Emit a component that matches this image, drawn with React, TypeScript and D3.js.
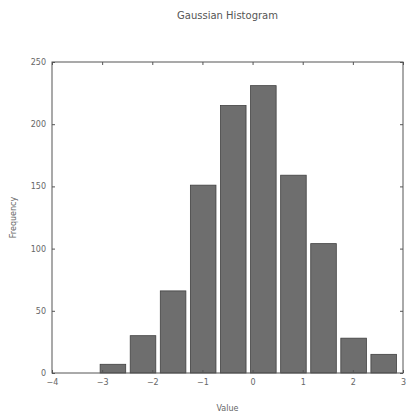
import React, { useEffect, useRef } from "react";
import * as d3 from "d3";

// histogram bins (edges) and counts
const binEdges = [-3.05, -2.45, -1.85, -1.25, -0.65, -0.05, 0.55, 1.15, 1.75, 2.35, 2.95];
const counts = [7, 30, 66, 151, 215, 231, 159, 104, 28, 15];
const xTicks = [-4, -3, -2, -1, 0, 1, 2, 3];
const yTicks = [0, 50, 100, 150, 200, 250];

export default function App() {
  const ref = useRef<SVGSVGElement>(null);

  useEffect(() => {
    const svg = d3.select(ref.current);
    svg.selectAll("*").remove();

    const width = 407;
    const height = 419;
    const margin = { top: 62, right: 4, bottom: 46, left: 52 };
    const font = "DejaVu Sans, sans-serif";
    const axisColor = "#555";

    const x = d3
      .scaleLinear()
      .domain([-4, 3])
      .range([margin.left, width - margin.right]);
    const y = d3
      .scaleLinear()
      .domain([0, 250])
      .range([height - margin.bottom, margin.top]);

    const bins = counts.map((c, i) => ({ x0: binEdges[i], x1: binEdges[i + 1], count: c }));

    svg
      .append("g")
      .selectAll("rect")
      .data(bins)
      .join("rect")
      .attr("x", (d: any) => x(d.x0) + 0.5)
      .attr("width", (d: any) => (x(d.x1) - x(d.x0)) * 0.85)
      .attr("y", (d: any) => y(d.count))
      .attr("height", (d: any) => y(0) - y(d.count))
      .attr("fill", "#6e6e6e")
      .attr("stroke", "#404040")
      .attr("stroke-width", 0.8);

    const styleAxis = (g: any) => {
      g.select(".domain").remove();
      g.selectAll("line").attr("stroke", axisColor);
      g.selectAll("text")
        .attr("fill", "#666")
        .style("font-family", font)
        .style("font-size", "8px");
    };

    svg
      .append("g")
      .attr("transform", `translate(0,${y(0)})`)
      .call(d3.axisBottom(x).tickValues(xTicks).tickSize(-3).tickPadding(6).tickFormat(d3.format("d")))
      .call(styleAxis);
    svg
      .append("g")
      .attr("transform", `translate(0,${y(250)})`)
      .call(d3.axisTop(x).tickValues(xTicks).tickSize(-3).tickFormat(() => ""))
      .call(styleAxis);
    svg
      .append("g")
      .attr("transform", `translate(${x(-4)},0)`)
      .call(d3.axisLeft(y).tickValues(yTicks).tickSize(-3).tickPadding(6))
      .call(styleAxis);
    svg
      .append("g")
      .attr("transform", `translate(${x(3)},0)`)
      .call(d3.axisRight(y).tickValues(yTicks).tickSize(-3).tickFormat(() => ""))
      .call(styleAxis);

    svg
      .append("rect")
      .attr("x", x(-4))
      .attr("y", y(250))
      .attr("width", x(3) - x(-4))
      .attr("height", y(0) - y(250))
      .attr("fill", "none")
      .attr("stroke", axisColor)
      .attr("stroke-width", 1);

    svg
      .append("text")
      .attr("x", (x(-4) + x(3)) / 2)
      .attr("y", 19)
      .attr("text-anchor", "middle")
      .attr("fill", "#555")
      .style("font-family", font)
      .style("font-size", "10px")
      .text("Gaussian Histogram");

    svg
      .append("text")
      .attr("x", (x(-4) + x(3)) / 2)
      .attr("y", 411)
      .attr("text-anchor", "middle")
      .attr("fill", "#666")
      .style("font-family", font)
      .style("font-size", "8px")
      .text("Value");

    svg
      .append("text")
      .attr("transform", `translate(16,${(y(0) + y(250)) / 2}) rotate(-90)`)
      .attr("text-anchor", "middle")
      .attr("fill", "#666")
      .style("font-family", font)
      .style("font-size", "8px")
      .text("Frequency");
  }, []);

  return (
    <svg
      ref={ref}
      width={407}
      height={419}
      style={{ position: "absolute", left: 0, top: 0, background: "#fff" }}
    />
  );
}
